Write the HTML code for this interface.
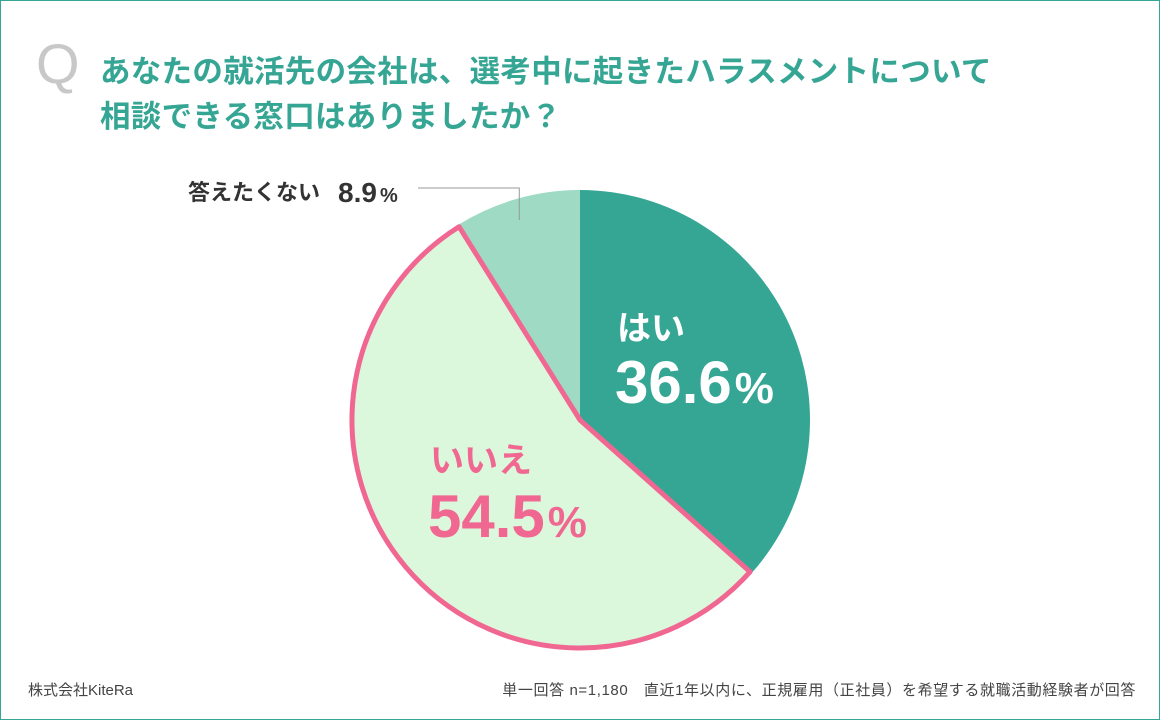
<!DOCTYPE html>
<html><head><meta charset="utf-8"><style>
body{margin:0;width:1160px;height:720px;background:#fff;font-family:"Liberation Sans","Noto Sans CJK JP",sans-serif;overflow:hidden}
#frame{position:absolute;left:0;top:0;width:1158px;height:718px;border:1px solid #35a594}
.t{position:absolute;white-space:nowrap}
</style></head><body>
<div id="frame"></div>
<div class="t" style="left:36px;top:36px;font-size:56px;color:#c8c8c8;font-family:'Liberation Sans',sans-serif;line-height:1">Q</div>
<div class="t" style="left:100px;top:50px;font-size:30.5px;font-weight:bold;color:#35a594;line-height:45px;letter-spacing:0.3px">あなたの就活先の会社は、選考中に起きたハラスメントについて<br>相談できる窓口はありましたか？</div>
<svg id="pie" width="1160" height="720" style="position:absolute;left:0;top:0"></svg>
<div class="t" style="left:28px;top:679px;font-size:15px;color:#444">株式会社KiteRa</div>
<div class="t" style="right:24px;top:679px;font-size:15px;color:#444;letter-spacing:0.6px">単一回答 n=1,180　直近1年以内に、正規雇用（正社員）を希望する就職活動経験者が回答</div>
<script>
const categories=["はい","いいえ","答えたくない"];
const values=[36.6,54.5,8.9];
const fills=["#35a594","#dcf8dc","#9fdac4"];
const svg=document.getElementById('pie');
const NS="http://www.w3.org/2000/svg";
const cx=580,cy=420,r=230;
const total=values.reduce((a,b)=>a+b,0);
function pt(a,rr){return [cx+rr*Math.sin(a),cy-rr*Math.cos(a)];}
let start=0;const angles=[];
values.forEach((v,i)=>{
 const end=start+v/total*2*Math.PI;angles.push([start,end]);
 const p1=pt(start,r),p2=pt(end,r);const large=end-start>Math.PI?1:0;
 const path=document.createElementNS(NS,'path');
 path.setAttribute('d',`M${cx},${cy}L${p1[0]},${p1[1]}A${r},${r} 0 ${large} 1 ${p2[0]},${p2[1]}Z`);
 path.setAttribute('fill',fills[i]);
 
 
 svg.appendChild(path);
 start=end;
});
{const [s,e]=angles[1];const p1=pt(s,r-2),p2=pt(e,r-2);
 const path=document.createElementNS(NS,'path');
 path.setAttribute('d',`M${cx},${cy}L${p1[0]},${p1[1]}A${r-2},${r-2} 0 ${e-s>Math.PI?1:0} 1 ${p2[0]},${p2[1]}Z`);
 path.setAttribute('fill','none');path.setAttribute('stroke','#f06892');path.setAttribute('stroke-width','5');path.setAttribute('stroke-linejoin','round');
 
 
 svg.appendChild(path);}
{const mid=(angles[2][0]+angles[2][1])/2;const p=pt(mid,r-10);
 const pl=document.createElementNS(NS,'polyline');
 pl.setAttribute('points',`${p[0]},${cy-r+30} ${p[0]},188 418,188`);
 pl.setAttribute('fill','none');pl.setAttribute('stroke','#999');pl.setAttribute('stroke-width','1');
 
 
 svg.appendChild(pl);}
function txt(x,y,s,size,color,weight,name,pct){
 const t=document.createElementNS(NS,'text');
 t.setAttribute('x',x);t.setAttribute('y',y);t.setAttribute('font-size',size);t.setAttribute('fill',color);
 t.setAttribute('font-weight',weight);
 t.setAttribute('font-family',"'Liberation Sans','Noto Sans CJK JP',sans-serif");
 t.textContent=s;
 if(pct){const ts=document.createElementNS(NS,'tspan');ts.setAttribute('font-size',pct);ts.setAttribute('dx','3');ts.textContent='%';t.appendChild(ts);}
 
 
 svg.appendChild(t);return t;}
txt(617,340,categories[0],34,'#fff','bold','label-hai');
txt(615,403,values[0].toFixed(1),60,'#fff','bold','value-hai',44);
txt(430,472,categories[1],34,'#f06892','bold','label-iie');
txt(428,537,values[1].toFixed(1),60,'#f06892','bold','value-iie',44);
txt(188,200,categories[2],22,'#333','bold','label-kotaetakunai');
txt(338,202,values[2].toFixed(1),28,'#333','bold','value-kotaetakunai',20);
</script>
</body></html>
